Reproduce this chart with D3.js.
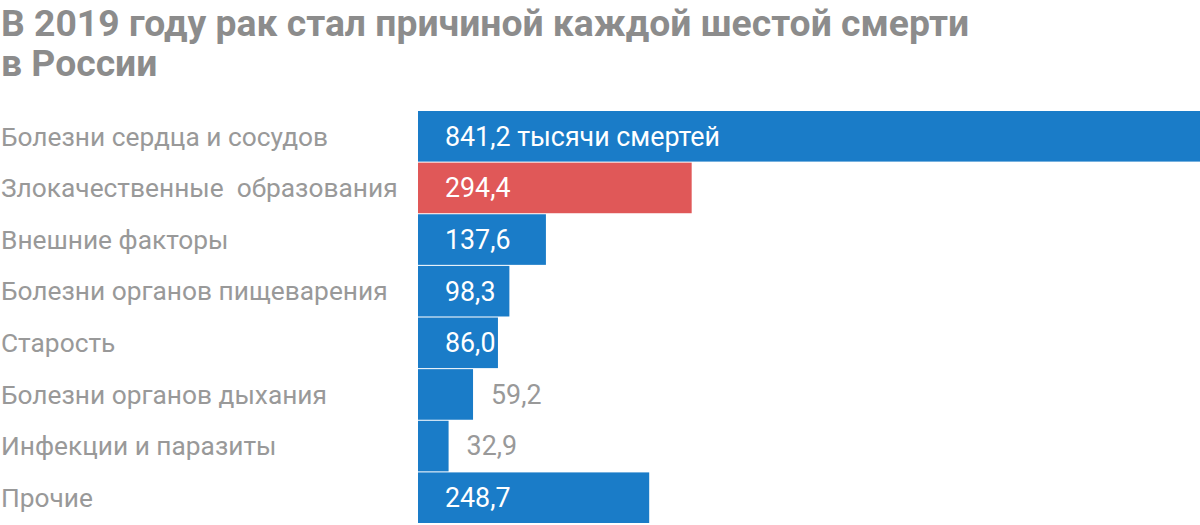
<!DOCTYPE html>
<html><head><meta charset="utf-8">
<script src="https://cdn.jsdelivr.net/npm/d3@7"></script>
<style>
html,body{margin:0;padding:0;background:#fff;}
svg{display:block;}
</style></head>
<body>
<script>
const categories = ["Болезни сердца и сосудов","Злокачественные  образования","Внешние факторы","Болезни органов пищеварения","Старость","Болезни органов дыхания","Инфекции и паразиты","Прочие"];
const values = [841.2, 294.4, 137.6, 98.3, 86.0, 59.2, 32.9, 248.7];
const valueLabels = ["841,2 тысячи смертей","294,4","137,6","98,3","86,0","59,2","32,9","248,7"];
const highlight = ["Злокачественные  образования"];
const titleLines = ["В 2019 году рак стал причиной каждой шестой смерти","в России"];

const W = 1200, H = 525;
const FONT = "Roboto, 'Noto Sans', sans-serif";
const svg = d3.select("body").append("svg").attr("width", W).attr("height", H);

svg.append("g").selectAll("text").data(titleLines).join("text")
  .attr("x", 1).attr("y", (d,i)=>36 + i*40)
  .attr("font-family", FONT).attr("font-weight", 700).attr("font-size", 37.3)
  .attr("fill", "#8c8c8c").text(d=>d);

const x = d3.scaleLinear().domain([0, d3.max(values)]).range([418, 1200]);
const y = d3.scaleBand().domain(categories).range([111, 523]).paddingInner(0.02).paddingOuter(0);

const data = categories.map((c,i)=>({c, v: values[i], l: valueLabels[i]}));

svg.append("g").selectAll("rect").data(data).join("rect")
  .attr("x", x(0)).attr("y", d=>y(d.c))
  .attr("width", d=>x(d.v)-x(0)).attr("height", y.bandwidth())
  .attr("fill", d=> highlight.includes(d.c) ? "#e05858" : "#1a7cc8");

svg.append("g").selectAll("text").data(data).join("text")
  .attr("x", 1).attr("y", d=>y(d.c)+y.bandwidth()/2)
  .attr("dy", "0.35em")
  .attr("font-family", FONT).attr("font-size", 26.3)
  .attr("fill", "#999").attr("xml:space","preserve").style("white-space","pre")
  .text(d=>d.c);

svg.append("g").selectAll("text").data(data).join("text")
  .attr("x", d => (x(d.v)-x(0) > 70) ? x(0)+27 : x(d.v)+18)
  .attr("y", d=>y(d.c)+y.bandwidth()/2)
  .attr("dy", "0.35em")
  .attr("font-family", FONT).attr("font-size", 26.8)
  .attr("fill", d => (x(d.v)-x(0) > 70) ? "#fff" : "#999")
  .text(d=>d.l);
</script>
</body></html>
